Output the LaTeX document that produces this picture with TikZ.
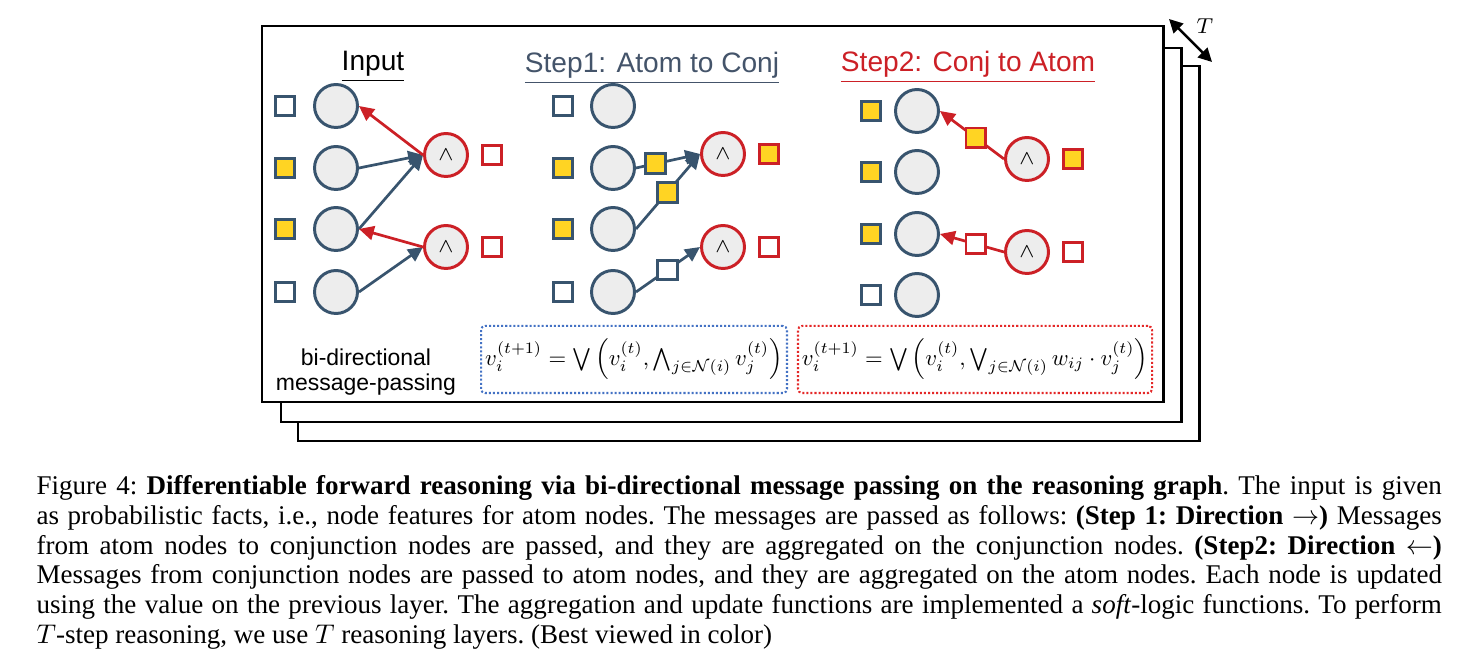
\RequirePackage{fix-cm}
\documentclass[tikz,border=0pt]{standalone}
\usepackage{amsmath}
\usepackage{amssymb}
\usepackage{fontspec}
\setmainfont{Liberation Serif}
\newfontfamily\diagfont{Liberation Sans}
\usepackage{xcolor}
\usepackage{tikz}
\usetikzlibrary{positioning, arrows.meta}

\definecolor{slate}{RGB}{56,84,110}
\definecolor{conjred}{RGB}{204,32,38}
\definecolor{factyellow}{RGB}{255,212,35}
\definecolor{nodegray}{RGB}{237,237,237}
\definecolor{boxblue}{RGB}{68,114,196}
\definecolor{boxred}{RGB}{228,40,40}
\definecolor{titleblue}{RGB}{68,84,106}

\tikzset{
  atom/.style   ={circle, draw=slate, fill=nodegray, line width=1.1pt,
                  minimum size=15.9pt, inner sep=0pt},
  conj/.style   ={circle, draw=conjred, fill=nodegray, line width=1.1pt,
                  minimum size=15.9pt, inner sep=0pt, font=\fontsize{7.5}{8}\selectfont},
  feat/.style   ={rectangle, draw=slate, fill=white, line width=1.1pt,
                  minimum size=7.3pt, inner sep=0pt},
  featY/.style  ={feat, fill=factyellow},
  cfeat/.style  ={feat, draw=conjred},
  cfeatY/.style ={cfeat, fill=factyellow},
  fwd/.style    ={draw=slate, line width=1pt, -{Triangle[length=5.5pt, width=5.2pt]}},
  bwd/.style    ={draw=conjred, line width=1pt, -{Triangle[length=5.5pt, width=5.2pt]}},
  sheet/.style  ={draw=black, fill=white, line width=1.1pt},
  heading/.style={font=\diagfont\fontsize{10.4}{12}\selectfont},
  eqbox/.style  ={draw, dash pattern=on 0.75pt off 0.75pt, line width=0.75pt,
                  rounded corners=1.5pt, minimum height=24.8pt, inner sep=0pt},
}

\begin{document}
\begin{tikzpicture}[x=0.37pt, y=-0.37pt]
  \useasboundingbox (0,0) rectangle (1460,660);

  % T stacked layers
  \draw[sheet] (298,66) rectangle (1199,441);
  \draw[sheet] (281,48) rectangle (1181,422);
  \draw[sheet] (262,26) rectangle (1163,402);
  \coordinate (Ttop) at (1169,19);
  \coordinate (Tbot) at (1212,62);
  \draw[line width=0.9pt, {Triangle[length=5pt, width=5pt]}-{Triangle[length=5pt, width=5pt]}] (Ttop) -- (Tbot);
  \node[font=\fontsize{8}{9}\selectfont] (Tlbl) at (1205,26) {$T$};

  % Input
  \node[heading] (Ahead) at (373,67) {\underline{Input}};
  \node[feat]  (Af1) at (285,106) {};
  \node[featY] (Af2) at (285,168) {};
  \node[featY] (Af3) at (285,229) {};
  \node[feat]  (Af4) at (285,292) {};
  \node[atom] (Aa1) at (336,106) {};
  \node[atom] (Aa2) at (336,168) {};
  \node[atom] (Aa3) at (336,229) {};
  \node[atom] (Aa4) at (336,292) {};
  \node[conj] (Ac1) at (446,155) {$\wedge$};
  \node[conj] (Ac2) at (446,247) {$\wedge$};
  \node[cfeat] (Ag1) at (492,155) {};
  \node[cfeat] (Ag2) at (492,247) {};
  \draw[fwd] (Aa2.east) -- (Ac1.west);
  \draw[fwd] (Aa3.east) -- (Ac1.west);
  \draw[fwd] (Aa4.east) -- (Ac2.west);
  \draw[bwd] (Ac1.west) -- (Aa1.east);
  \draw[bwd] (Ac2.west) -- (Aa3.east);
  \node[align=center, font=\diagfont\fontsize{8.5}{9.4}\selectfont] (Anote) at (366,372)
    {bi-directional\\message-passing};

  % Step1
  \node[heading, text=titleblue] (Bhead) at (652,68) {\underline{Step1: Atom to Conj}};
  \node[feat]  (Bf1) at (563,106) {};
  \node[featY] (Bf2) at (563,168) {};
  \node[featY] (Bf3) at (563,229) {};
  \node[feat]  (Bf4) at (563,292) {};
  \node[atom] (Ba1) at (613,106) {};
  \node[atom] (Ba2) at (613,168) {};
  \node[atom] (Ba3) at (613,229) {};
  \node[atom] (Ba4) at (613,292) {};
  \node[conj] (Bc1) at (723,154) {$\wedge$};
  \node[conj] (Bc2) at (723,247) {$\wedge$};
  \node[cfeatY] (Bg1) at (769,154) {};
  \node[cfeat]  (Bg2) at (769,247) {};
  \draw[fwd] (Ba2.east) -- node[featY, pos=0.3] (Bm1) {} (Bc1.west);
  \draw[fwd] (Ba3.east) -- node[featY, pos=0.49] (Bm2) {} (Bc1.west);
  \draw[fwd] (Ba4.east) -- node[feat, pos=0.49] (Bm3) {} (Bc2.west);
  \node[eqbox, draw=boxblue, minimum width=113.2pt] (Beq) at (634,359.5)
    {\scalebox{0.84}{$v_i^{(t+1)} = \bigvee \left( v_i^{(t)}, \bigwedge_{j\in\mathcal{N}(i)} v_j^{(t)} \right)$}};

  % Step2
  \node[heading, text=conjred] (Chead) at (968,67) {\underline{Step2: Conj to Atom}};
  \node[featY] (Cf1) at (871,111) {};
  \node[featY] (Cf2) at (871,172) {};
  \node[featY] (Cf3) at (871,234) {};
  \node[feat]  (Cf4) at (871,295) {};
  \node[atom] (Ca1) at (917,111) {};
  \node[atom] (Ca2) at (917,172) {};
  \node[atom] (Ca3) at (917,234) {};
  \node[atom] (Ca4) at (917,295) {};
  \node[conj] (Cc1) at (1027,159) {$\wedge$};
  \node[conj] (Cc2) at (1027,252) {$\wedge$};
  \node[cfeatY] (Cg1) at (1073,159) {};
  \node[cfeat]  (Cg2) at (1073,252) {};
  \draw[bwd] (Cc1.west) -- node[cfeatY, pos=0.44] (Cm1) {} (Ca1.east);
  \draw[bwd] (Cc2.west) -- node[cfeat, pos=0.44] (Cm2) {} (Ca3.east);
  \node[eqbox, draw=boxred, minimum width=131pt] (Ceq) at (975,359.5)
    {\scalebox{0.84}{$v_i^{(t+1)} = \bigvee \left( v_i^{(t)}, \bigvee_{j\in\mathcal{N}(i)} w_{ij}\cdot v_j^{(t)} \right)$}};

  % caption
  \node[anchor=north west, inner sep=0pt, text width=520pt, align=justify,
        font=\fontsize{10}{11}\selectfont\frenchspacing] (cap) at (36,475)
    {Figure 4: \textbf{Differentiable forward reasoning via bi-directional message passing on the reasoning graph}. The input is given\linebreak
     as probabilistic facts, i.e., node features for atom nodes. The messages are passed as follows: \textbf{(Step 1: Direction $\rightarrow$)} Messages\linebreak
     from atom nodes to conjunction nodes are passed, and they are aggregated on the conjunction nodes. \textbf{(Step2: Direction $\leftarrow$)}\linebreak
     Messages from conjunction nodes are passed to atom nodes, and they are aggregated on the atom nodes. Each node is updated\linebreak
     using the value on the previous layer. The aggregation and update functions are implemented a \textit{soft}-logic functions. To perform\linebreak
     $T$-step reasoning, we use $T$ reasoning layers. (Best viewed in color)};
\end{tikzpicture}
\end{document}
